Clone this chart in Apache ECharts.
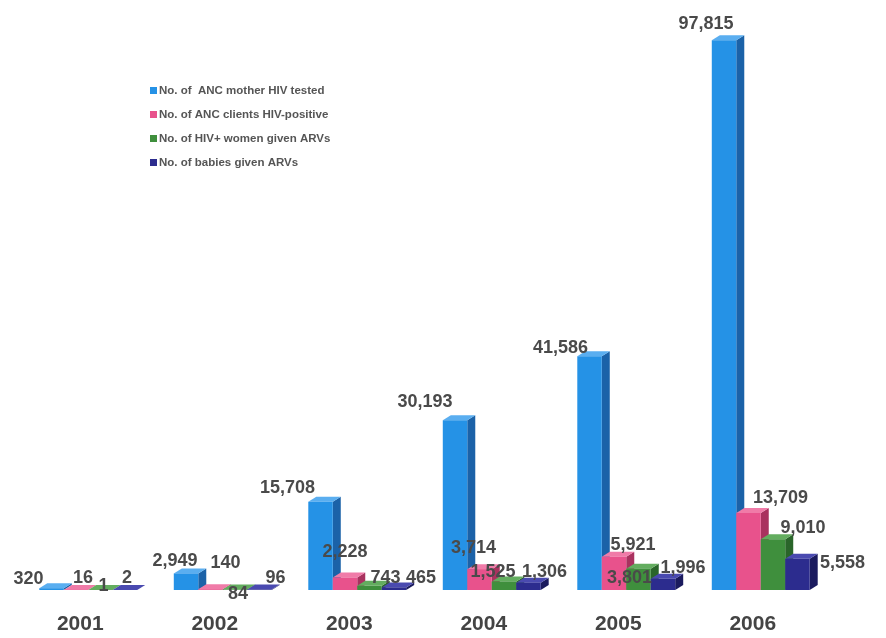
<!DOCTYPE html>
<html>
<head>
<meta charset="utf-8">
<script src="https://cdn.jsdelivr.net/npm/echarts@6/dist/echarts.min.js"></script>
<style>html,body{margin:0;padding:0;background:#fff}#c{width:886px;height:638px}</style>
</head>
<body>
<div id="c"></div>
<script>
const YEARS = ['2001', '2002', '2003', '2004', '2005', '2006'];
const SERIES_NAMES = [
  'No. of  ANC mother HIV tested',
  'No. of ANC clients HIV-positive',
  'No. of HIV+ women given ARVs',
  'No. of babies given ARVs'
];
const MOTHERS_TESTED   = [320, 2949, 15708, 30193, 41586, 97815];
const CLIENTS_POSITIVE = [16, 140, 2228, 3714, 5921, 13709];
const WOMEN_GIVEN_ARV  = [1, 84, 743, 1525, 3801, 9010];
const BABIES_GIVEN_ARV = [2, 96, 465, 1306, 1996, 5558];

// styling (not data)
const PALETTE = [
  {front: '#2592e6', side: '#1b62a8', top: '#5aaef0'},
  {front: '#e8528c', side: '#a9325f', top: '#f07ba8'},
  {front: '#3f8f3d', side: '#2a652a', top: '#63ad5f'},
  {front: '#2c2c8e', side: '#1b1b5e', top: '#4a4ab0'}
];
const LABEL_NUDGE = [
  [[-23,-9],[-11,-12],[-33,-14],[-30,-18],[-29,-8],[-18,-16]],
  [[7,-12],[15,-26],[0,-25],[-6,-21],[19,-12],[32,-15]],
  [[3,-4],[3,5],[16,-8],[-11,-9],[-9,9],[30,-11]],
  [[2,-12],[16,-11],[27,-9],[16,-11],[20,-11],[45,4]]
];
const BAR_FRACTION = 0.182;
const DEPTH_X = 8, DEPTH_Y = 5;

function fmt(v) { return v.toLocaleString('en-US'); }

function makeSeries(name, values, s) {
  return {
    type: 'custom',
    name: name,
    data: values.map((v, i) => [i, v]),
    encode: {x: 0, y: 1},
    itemStyle: {color: PALETTE[s].front},
    renderItem: function (params, api) {
      const cat = api.value(0), val = api.value(1);
      const base = api.coord([cat, 0]);
      const top = api.coord([cat, val]);
      const band = api.size([1, 0])[0];
      const w = band * BAR_FRACTION;
      const x0 = base[0] - 2 * w + s * w;
      const x1 = x0 + w;
      const yT = top[1], yB = base[1];
      const c = PALETTE[s];
      const n = LABEL_NUDGE[s][params.dataIndex];
      return {
        type: 'group',
        children: [
          {type: 'polygon', shape: {points: [[x1, yT], [x1 + DEPTH_X, yT - DEPTH_Y], [x1 + DEPTH_X, yB - DEPTH_Y], [x1, yB]]}, style: {fill: c.side}},
          {type: 'polygon', shape: {points: [[x0, yT], [x0 + DEPTH_X, yT - DEPTH_Y], [x1 + DEPTH_X, yT - DEPTH_Y], [x1, yT]]}, style: {fill: c.top}},
          {type: 'rect', shape: {x: x0, y: yT, width: w, height: Math.max(yB - yT, 0)}, style: {fill: c.front}},
          {type: 'text', z2: 100, x: x0 + w / 2 + n[0], y: yT + n[1],
           style: {text: fmt(val), fill: '#4a4a4a', font: 'bold 18px "Liberation Sans", Arial, sans-serif', align: 'center', verticalAlign: 'middle'}}
        ]
      };
    }
  };
}

const chart = echarts.init(document.getElementById('c'), null, {renderer: 'canvas'});
chart.setOption({
  backgroundColor: '#ffffff',
  animation: false,
  legend: {
    orient: 'vertical',
    left: 145,
    top: 79,
    itemWidth: 7,
    itemHeight: 7,
    itemGap: 11,
    icon: 'rect',
    textStyle: {color: '#555', fontSize: 11.5, fontWeight: 'bold', fontFamily: '"Liberation Sans", Arial, sans-serif', padding: [0, 0, 0, -3], lineHeight: 13},
    data: SERIES_NAMES
  },
  grid: {left: 21, right: 58, top: 28, bottom: 48},
  xAxis: {
    type: 'category',
    data: YEARS,
    axisLine: {show: false},
    axisTick: {show: false},
    axisLabel: {margin: 24, color: '#444', fontSize: 21, fontWeight: 'bold', fontFamily: '"Liberation Sans", Arial, sans-serif', padding: [0, 16, 0, 0]}
  },
  yAxis: {type: 'value', min: 0, max: 100000, show: false, splitLine: {show: false}},
  series: [
    makeSeries(SERIES_NAMES[0], MOTHERS_TESTED, 0),
    makeSeries(SERIES_NAMES[1], CLIENTS_POSITIVE, 1),
    makeSeries(SERIES_NAMES[2], WOMEN_GIVEN_ARV, 2),
    makeSeries(SERIES_NAMES[3], BABIES_GIVEN_ARV, 3)
  ]
});
</script>
</body>
</html>
